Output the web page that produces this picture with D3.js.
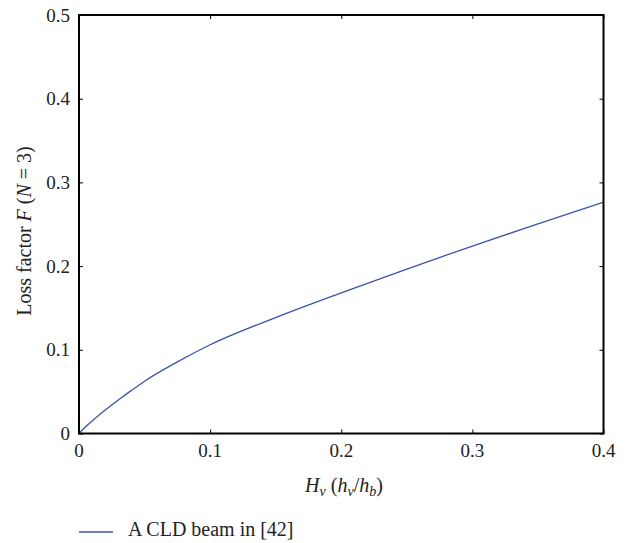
<!DOCTYPE html>
<html><head><meta charset="utf-8">
<script src="https://cdn.jsdelivr.net/npm/d3@7"></script>
<style>
body{margin:0;background:#fff;}
</style></head>
<body><svg id="c" width="638" height="543"></svg>
<script>
const xValues = [0, 0.005, 0.01, 0.02, 0.03, 0.04, 0.05, 0.075, 0.1, 0.15, 0.2, 0.25, 0.3, 0.35, 0.4];
const lossFactor = [0, 0.008, 0.015, 0.028, 0.040, 0.0515, 0.0625, 0.0855, 0.106, 0.1385, 0.168, 0.1965, 0.224, 0.2505, 0.2765];
const xTicks = [0, 0.1, 0.2, 0.3, 0.4];
const yTicks = [0, 0.1, 0.2, 0.3, 0.4, 0.5];
const seriesName = "A CLD beam in [42]";

const FONT = "Liberation Serif";
const svg = d3.select("#c");
const L = 79, R = 603.5, T = 15, B = 433.5;
const x = d3.scaleLinear().domain([0, 0.4]).range([L, R]);
const y = d3.scaleLinear().domain([0, 0.5]).range([B, T]);
const fmt = d => d === 0 ? "0" : d3.format(".1f")(d);

const g = svg.append("g");
const tk = 4;
g.append("g").attr("transform", `translate(0,${B})`)
  .call(d3.axisBottom(x).tickValues(xTicks).tickSize(-tk).tickFormat(""))
  .call(s => s.select(".domain").remove());
g.append("g").attr("transform", `translate(0,${T})`)
  .call(d3.axisTop(x).tickValues(xTicks).tickSize(-tk).tickFormat(""))
  .call(s => s.select(".domain").remove());
g.append("g").attr("transform", `translate(${L},0)`)
  .call(d3.axisLeft(y).tickValues(yTicks).tickSize(-tk).tickFormat(""))
  .call(s => s.select(".domain").remove());
g.append("g").attr("transform", `translate(${R},0)`)
  .call(d3.axisRight(y).tickValues(yTicks).tickSize(-tk).tickFormat(""))
  .call(s => s.select(".domain").remove());
g.selectAll(".tick line").attr("stroke", "#000").attr("stroke-width", 1);
g.selectAll(".tick text").remove();

const labels = svg.append("g");

labels.append("g").selectAll("text").data(xTicks).join("text")
  .attr("font-family", FONT).attr("fill", "#222")
  .attr("x", d => x(d)).attr("y", 457).attr("text-anchor", "middle")
  .attr("font-size", 19).text(fmt);
labels.append("g").selectAll("text").data(yTicks).join("text")
  .attr("font-family", FONT).attr("fill", "#222")
  .attr("x", L - 9).attr("y", d => y(d) + 6.5).attr("text-anchor", "end")
  .attr("font-size", 19).text(fmt);

const line = d3.line().x((d, i) => x(xValues[i])).y(d => y(d)).curve(d3.curveMonotoneX);
svg.append("path").datum(lossFactor).attr("d", line)
  .attr("fill", "none").attr("stroke", "#3a55ab").attr("stroke-width", 1.3);

svg.append("rect").attr("x", L).attr("y", T).attr("width", R - L).attr("height", B - T)
  .attr("fill", "none").attr("stroke", "#000").attr("stroke-width", 2);

const xl = labels.append("text").attr("font-family", FONT).attr("fill", "#222")
  .attr("x", 344).attr("y", 492).attr("text-anchor", "middle").attr("font-size", 20);
xl.append("tspan").attr("font-style", "italic").text("H");
xl.append("tspan").attr("font-style", "italic").attr("font-size", 14).attr("dy", 4).text("v");
xl.append("tspan").attr("dy", -4).text(" (");
xl.append("tspan").attr("font-style", "italic").text("h");
xl.append("tspan").attr("font-style", "italic").attr("font-size", 14).attr("dy", 4).text("v");
xl.append("tspan").attr("dy", -4).text("/");
xl.append("tspan").attr("font-style", "italic").text("h");
xl.append("tspan").attr("font-style", "italic").attr("font-size", 14).attr("dy", 4).text("b");
xl.append("tspan").attr("dy", -4).text(")");

const yl = labels.append("text").attr("font-family", FONT).attr("fill", "#222")
  .attr("transform", `translate(31,231) rotate(-90)`)
  .attr("text-anchor", "middle").attr("font-size", 20);
yl.append("tspan").text("Loss factor ");
yl.append("tspan").attr("font-style", "italic").text("F");
yl.append("tspan").text(" (");
yl.append("tspan").attr("font-style", "italic").text("N");
yl.append("tspan").text(" = 3)");

svg.append("line").attr("x1", 79).attr("x2", 113).attr("y1", 532).attr("y2", 532)
  .attr("stroke", "#3a55ab").attr("stroke-width", 1.3);
labels.append("text").attr("font-family", FONT).attr("fill", "#222")
  .attr("x", 128).attr("y", 536).attr("font-size", 20).text(seriesName);
</script></body></html>
